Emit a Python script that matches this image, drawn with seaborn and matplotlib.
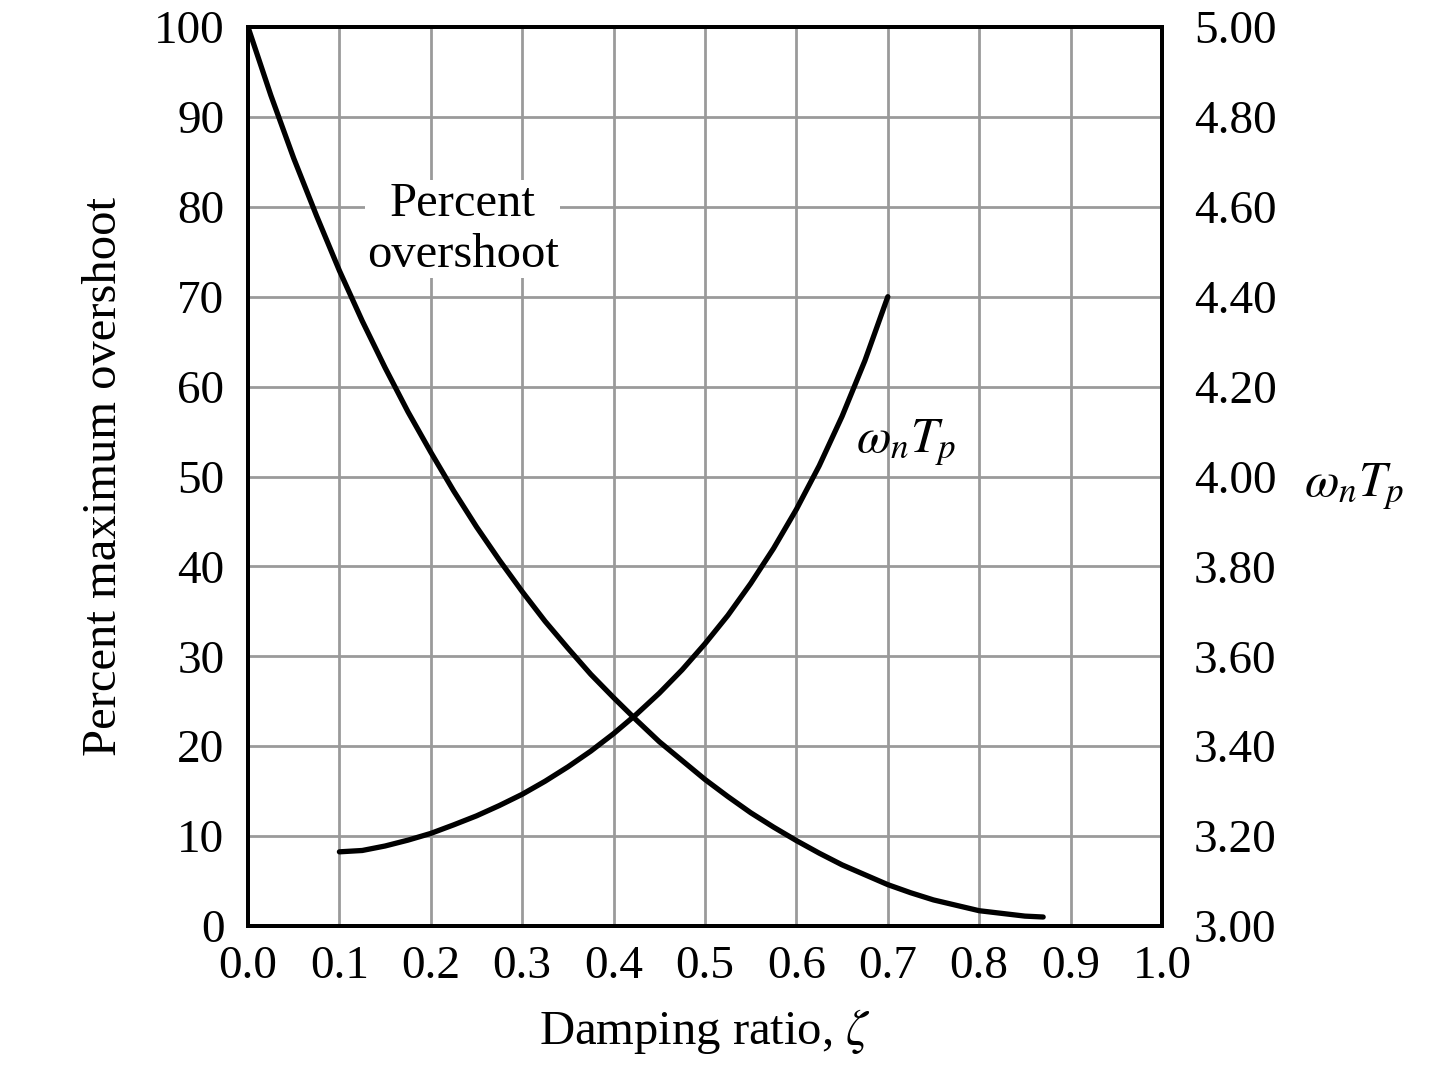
import matplotlib
matplotlib.use("Agg")
import matplotlib.pyplot as plt
import seaborn as sns
import pandas as pd

# Data
zeta_os = [0.0, 0.025, 0.05, 0.075, 0.10, 0.125, 0.15, 0.175, 0.20, 0.225, 0.25,
           0.275, 0.30, 0.325, 0.35, 0.375, 0.40, 0.425, 0.45, 0.475, 0.50,
           0.525, 0.55, 0.575, 0.60, 0.625, 0.65, 0.675, 0.70, 0.725, 0.75,
           0.775, 0.80, 0.825, 0.85, 0.87]
overshoot = [100.0, 92.4, 85.4, 79.0, 72.9, 67.3, 62.1, 57.2, 52.7, 48.4, 44.4,
             40.7, 37.2, 33.9, 30.9, 28.0, 25.4, 22.9, 20.5, 18.4, 16.3,
             14.4, 12.6, 11.0, 9.5, 8.1, 6.8, 5.7, 4.6, 3.7, 2.9,
             2.3, 1.7, 1.4, 1.1, 1.0]

zeta_tp = [0.10, 0.125, 0.15, 0.175, 0.20, 0.225, 0.25, 0.275, 0.30, 0.325, 0.35,
           0.375, 0.40, 0.425, 0.45, 0.475, 0.50, 0.525, 0.55, 0.575, 0.60,
           0.625, 0.65, 0.675, 0.70]
wn_tp = [3.165, 3.168, 3.178, 3.191, 3.206, 3.225, 3.245, 3.268, 3.293, 3.322, 3.354,
         3.389, 3.428, 3.471, 3.518, 3.570, 3.628, 3.691, 3.762, 3.840, 3.927,
         4.024, 4.134, 4.258, 4.400]

x_ticks = [0.0, 0.1, 0.2, 0.3, 0.4, 0.5, 0.6, 0.7, 0.8, 0.9, 1.0]
x_ticklabels = ["0.0", "0.1", "0.2", "0.3", "0.4", "0.5", "0.6", "0.7", "0.8", "0.9", "1.0"]
y_ticks = [0, 10, 20, 30, 40, 50, 60, 70, 80, 90, 100]
y2_ticks = [3.00, 3.20, 3.40, 3.60, 3.80, 4.00, 4.20, 4.40, 4.60, 4.80, 5.00]

sns.set_theme(style="white")
plt.rcParams["font.family"] = ["Liberation Serif", "DejaVu Serif"]
plt.rcParams["mathtext.fontset"] = "stix"

fig = plt.figure(figsize=(14.4, 10.65), dpi=100)
ax = fig.add_axes([248 / 1440, 1 - 926 / 1065, (1162 - 248) / 1440, (926 - 27) / 1065])

df_os = pd.DataFrame({"zeta": zeta_os, "os": overshoot})
df_tp = pd.DataFrame({"zeta": zeta_tp, "tp": wn_tp})

sns.lineplot(data=df_os, x="zeta", y="os", ax=ax, color="black", linewidth=3.8,
             zorder=5, solid_capstyle="round")
ax.set_xlim(0, 1.0)
ax.set_ylim(0, 100)
ax.set_xticks(x_ticks)
ax.set_xticklabels(x_ticklabels)
ax.set_yticks(y_ticks)
ax.grid(True, color="#9a9a9a", linewidth=2.0)
ax.set_axisbelow(True)

ax2 = ax.twinx()
sns.lineplot(data=df_tp, x="zeta", y="tp", ax=ax2, color="black", linewidth=3.8,
             zorder=5, solid_capstyle="round")
ax2.set_ylim(3.0, 5.0)
ax2.set_yticks(y2_ticks)
ax2.set_yticklabels([f"{v:.2f}" for v in y2_ticks])
ax2.grid(False)

fs_tick = 34
fs_lab = 35
for a in (ax, ax2):
    for s in a.spines.values():
        s.set_color("black")
        s.set_linewidth(2.8)
ax.tick_params(axis="both", length=0, labelsize=fs_tick, colors="black")
ax.tick_params(axis="y", pad=17)
ax.tick_params(axis="x", pad=14)
ax2.tick_params(axis="y", length=0, labelsize=fs_tick, colors="black", pad=23)

ax.set_xlabel(r"Damping ratio, $\zeta$", fontsize=fs_lab, color="black", labelpad=14)
ax.set_ylabel("Percent maximum overshoot", fontsize=fs_lab, color="black", labelpad=20)
ax2.set_ylabel("")

ax.text(0.235, 77.5, "Percent\novershoot", fontsize=fs_lab, ha="center", va="center",
        linespacing=1.2, color="black",
        bbox=dict(facecolor="white", edgecolor="none", pad=1))
ax.text(0.72, 53.8, r"$\omega_n T_p$", fontsize=fs_lab + 1, ha="center", va="center",
        color="black")
fig.text(1354 / 1440, 1 - 487 / 1065, r"$\omega_n T_p$", fontsize=fs_lab + 1,
         ha="center", va="center", color="black")

fig.savefig("out.png", dpi=100, facecolor="white")
